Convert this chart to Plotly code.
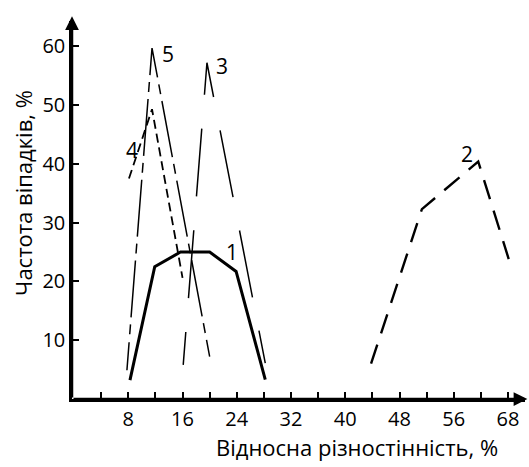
import plotly.graph_objects as go

# ---- data ----
x1 = [8.25, 11.9, 15.7, 20.0, 23.9, 28.2]
y1 = [3.2, 22.5, 25.0, 25.0, 21.7, 3.3]

x2 = [43.8, 51.3, 59.6, 64.1]
y2 = [6.0, 32.3, 40.4, 23.8]

x3 = [16.1, 19.6, 28.2]
y3 = [5.8, 57.2, 6.1]

x4 = [8.1, 11.5, 16.0]
y4 = [37.5, 49.3, 20.6]

x5 = [7.8, 11.5, 20.0]
y5 = [4.9, 59.7, 7.2]

curve_labels = ["1", "2", "3", "4", "5"]
label_x = [23.3, 58.0, 21.8, 8.55, 13.8]
label_y = [25.0, 41.6, 56.6, 42.4, 58.7]

x_tickvals = [4, 8, 12, 16, 20, 24, 28, 32, 36, 40, 44, 48, 52, 56, 60, 64]
x_ticktext = ["", "8", "", "16", "", "24", "", "32", "", "40", "", "48", "", "56", "", "68"]
y_tickvals = [10, 20, 30, 40, 50, 60]

x_title = "Відносна різностінність, %"
y_title = "Частота віпадків, %"

FONT = "Open Sans"

dash3 = "33px,34px,68px,34px,68px,34px,67px,34px,68px,34px,68px,34px,68px"
dash5 = "28px,8px,10px,7px" + ",57px,7px,10px,7px" * 10

fig = go.Figure()
fig.add_trace(go.Scatter(x=x1, y=y1, mode="lines", line=dict(color="black", width=3), showlegend=False))
fig.add_trace(go.Scatter(x=x2, y=y2, mode="lines", line=dict(color="black", width=2.4, dash="20px,12px"), showlegend=False))
fig.add_trace(go.Scatter(x=x3, y=y3, mode="lines", line=dict(color="black", width=1.5, dash=dash3), showlegend=False))
fig.add_trace(go.Scatter(x=x4, y=y4, mode="lines", line=dict(color="black", width=1.8, dash="9px,5px"), showlegend=False))
fig.add_trace(go.Scatter(x=x5, y=y5, mode="lines", line=dict(color="black", width=1.5, dash=dash5), showlegend=False))

annotations = []
for t, lx, ly in zip(curve_labels, label_x, label_y):
    annotations.append(dict(x=lx, y=ly, xref="x", yref="y", text=t, showarrow=False,
                            font=dict(family=FONT, size=21, color="black"),
                            xanchor="center", yanchor="middle"))

# axis arrows
annotations.append(dict(x=66.85, y=0, ax=-0.3, ay=0, xref="x", yref="y", axref="x", ayref="y",
                        text="", showarrow=True, arrowhead=2, arrowsize=1.1, arrowwidth=2.5,
                        arrowcolor="black", standoff=0, startstandoff=0))
annotations.append(dict(x=-0.3, y=65.1, ax=-0.3, ay=0, xref="x", yref="y", axref="x", ayref="y",
                        text="", showarrow=True, arrowhead=2, arrowsize=1.1, arrowwidth=2.5,
                        arrowcolor="black", standoff=0, startstandoff=0))

# axis titles
annotations.append(dict(x=0.63, y=-0.127, xref="paper", yref="paper", text=x_title, showarrow=False,
                        font=dict(family=FONT, size=22, color="black"), xanchor="center", yanchor="middle"))
annotations.append(dict(x=-0.108, y=0.5455, xref="paper", yref="paper", text=y_title, showarrow=False,
                        textangle=-90,
                        font=dict(family=FONT, size=22, color="black"), xanchor="center", yanchor="middle"))

fig.update_layout(
    width=529, height=467,
    margin=dict(l=72, r=4, t=21, b=68),
    paper_bgcolor="white", plot_bgcolor="white",
    font=dict(family=FONT, size=20, color="black"),
    annotations=annotations,
    xaxis=dict(range=[-0.3, 66.5], showgrid=False, zeroline=False, showline=True, linecolor="black",
               linewidth=2.5, ticks="inside", ticklen=7, tickwidth=1.5, tickcolor="black",
               tickmode="array", tickvals=x_tickvals, ticktext=x_ticktext,
               tickfont=dict(family=FONT, size=20, color="black"), automargin=False),
    yaxis=dict(range=[0, 64.3], showgrid=False, zeroline=False, showline=True, linecolor="black",
               linewidth=2.5, ticks="inside", ticklen=7, tickwidth=1.5, tickcolor="black",
               tickmode="array", tickvals=y_tickvals,
               tickfont=dict(family=FONT, size=20, color="black"), automargin=False),
)

fig.write_html("out.html", config={"displayModeBar": False},
               post_script="document.body.style.margin='0';")
